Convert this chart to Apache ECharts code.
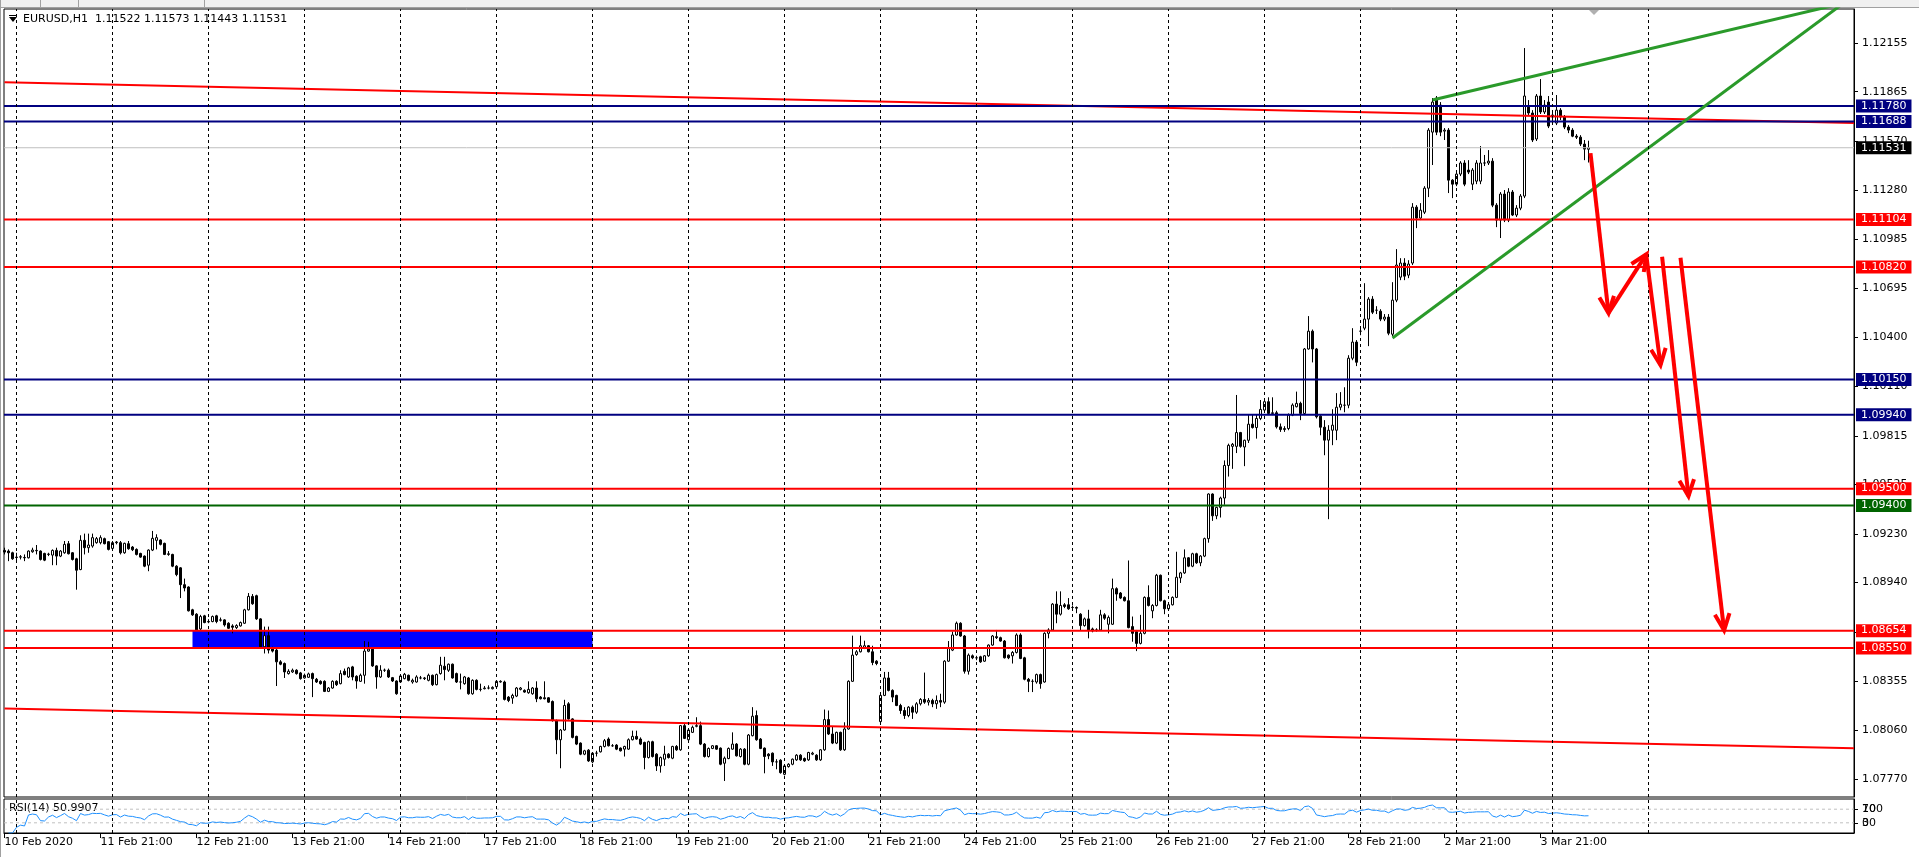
<!DOCTYPE html>
<html><head><meta charset="utf-8">
<script src="https://cdn.jsdelivr.net/npm/echarts@6/dist/echarts.min.js"></script>
<style>html,body{margin:0;padding:0;background:#fff;overflow:hidden}#c{width:1919px;height:857px}</style>
</head><body><div id="c"></div>
<script>
const headerText = 'EURUSD,H1  1.11522 1.11573 1.11443 1.11531';
const rsiTitle = 'RSI(14) 50.9907';
const timeLabelIndex = [0,24,48,72,96,120,144,168,192,216,240,264,288,312,336,360,384];
const timeLabels = ['10 Feb 2020','11 Feb 21:00','12 Feb 21:00','13 Feb 21:00','14 Feb 21:00','17 Feb 21:00','18 Feb 21:00','19 Feb 21:00','20 Feb 21:00','21 Feb 21:00','24 Feb 21:00','25 Feb 21:00','26 Feb 21:00','27 Feb 21:00','28 Feb 21:00','2 Mar 21:00','3 Mar 21:00'];
const dayStartIndex = [3,27,51,75,99,123,147,171,195,219,243,267,291,315,339,363,387,411];
const priceTicks = ['1.12155','1.11865','1.11570','1.11280','1.10985','1.10695','1.10400','1.10110','1.09815','1.09525','1.09230','1.08940','1.08645','1.08355','1.08060','1.07770'];
const rsiTicks = [70, 30];
const rsiTopBottom = [100, 0];
// hourly candles from 10 Feb 21:00: [open, high, low, close]
const candles = [
[1.09132,1.09148,1.09108,1.09122],[1.09128,1.09138,1.09068,1.09118],[1.09118,1.09124,1.09076,1.09082],
// 11 Feb
[1.09092,1.09118,1.09068,1.0909],[1.09092,1.09104,1.09078,1.09094],[1.0909,1.09108,1.09068,1.09088],[1.09088,1.09132,1.09084,1.09128],[1.09124,1.09148,1.09118,1.09134],[1.09132,1.09164,1.09108,1.0913],
[1.09128,1.09132,1.09072,1.09078],[1.09114,1.09118,1.09068,1.09074],[1.09108,1.09118,1.09098,1.0911],[1.09104,1.09138,1.09044,1.09132],[1.09132,1.09148,1.09044,1.09098],[1.09098,1.09134,1.09092,1.09128],
[1.09118,1.09188,1.09112,1.09168],[1.09172,1.09188,1.09108,1.09112],[1.09118,1.09122,1.09072,1.09078],[1.09082,1.09088,1.08898,1.09014],[1.09018,1.09222,1.09014,1.09192],[1.09192,1.09232,1.09108,1.09148],
[1.09148,1.09232,1.09118,1.09164],[1.09158,1.09232,1.09148,1.09208],[1.09178,1.09212,1.09172,1.09202],[1.09178,1.09222,1.09168,1.09208],[1.09202,1.09208,1.09168,1.09172],[1.09184,1.09188,1.09132,1.09138],
// 12 Feb
[1.09144,1.09188,1.09138,1.09178],[1.09178,1.09188,1.09168,1.09182],[1.09178,1.09188,1.09108,1.09118],[1.09118,1.09178,1.09112,1.09174],[1.09172,1.09188,1.09136,1.09142],[1.09152,1.09158,1.09128,1.09136],
[1.09138,1.09144,1.09102,1.09108],[1.09114,1.09118,1.09088,1.09092],[1.09098,1.09102,1.09032,1.09038],[1.09044,1.09138,1.09008,1.09134],[1.09134,1.09248,1.09128,1.09204],[1.09192,1.09228,1.09138,1.09208],
[1.09194,1.09198,1.09162,1.09168],[1.09174,1.09178,1.09104,1.09108],[1.09108,1.09128,1.091,1.09112],[1.09108,1.09112,1.09032,1.09038],[1.09038,1.09044,1.08978,1.08988],[1.09028,1.09032,1.08848,1.08928],
[1.08928,1.08964,1.08888,1.08908],[1.08914,1.08918,1.08768,1.08772],[1.08778,1.08784,1.08742,1.08748],[1.08752,1.08758,1.08652,1.08658],[1.08664,1.08748,1.08658,1.08738],[1.08742,1.08748,1.08698,1.08702],
// 13 Feb
[1.08708,1.08722,1.08698,1.08706],[1.08708,1.08744,1.08704,1.08738],[1.08742,1.08748,1.08698,1.08708],[1.08716,1.08732,1.08708,1.08718],[1.08718,1.08722,1.08678,1.08688],[1.08698,1.08704,1.08664,1.08668],
[1.08682,1.08692,1.08638,1.08674],[1.08672,1.08692,1.08664,1.08684],[1.08682,1.08708,1.08678,1.08702],[1.08698,1.08784,1.08694,1.08778],[1.08778,1.08878,1.08774,1.08858],[1.08858,1.08872,1.08808,1.08814],
[1.08862,1.08868,1.08718,1.08724],[1.08724,1.08728,1.08552,1.08558],[1.08558,1.08678,1.08518,1.08624],[1.08624,1.08678,1.08518,1.08538],[1.08552,1.08558,1.08524,1.08532],[1.08538,1.08548,1.08324,1.08468],
[1.08468,1.08478,1.08448,1.08454],[1.08458,1.08464,1.08372,1.08408],[1.08398,1.08424,1.08392,1.08412],[1.08408,1.08428,1.08402,1.08418],[1.08418,1.08424,1.08392,1.08398],[1.08402,1.08408,1.08362,1.08368],
// 14 Feb
[1.08372,1.08398,1.08368,1.08388],[1.08376,1.08404,1.08372,1.08396],[1.08398,1.08404,1.08258,1.08368],[1.08364,1.08372,1.08342,1.08348],[1.08352,1.08358,1.08332,1.08338],[1.08352,1.08358,1.08288,1.08292],
[1.08292,1.08318,1.08288,1.08312],[1.08312,1.08358,1.08308,1.08352],[1.08352,1.08358,1.08324,1.08332],[1.08338,1.08418,1.08334,1.08398],[1.08412,1.08428,1.08388,1.08392],[1.08378,1.08438,1.08372,1.08432],
[1.08438,1.08444,1.08358,1.08378],[1.08382,1.08388,1.08308,1.08354],[1.08352,1.08398,1.08348,1.08388],[1.08388,1.08592,1.08338,1.08532],[1.08532,1.08588,1.08528,1.08544],[1.08544,1.08548,1.08438,1.08444],
[1.08444,1.08448,1.08308,1.08378],[1.08378,1.08448,1.08372,1.08418],[1.08418,1.08428,1.08408,1.08418],[1.08418,1.08428,1.08372,1.08378],[1.08374,1.08378,1.08348,1.08354],[1.08354,1.08358,1.08272,1.08278],
// 17 Feb
[1.08348,1.08392,1.08344,1.08384],[1.08368,1.08402,1.08364,1.08394],[1.08388,1.08392,1.08352,1.08358],[1.08348,1.08368,1.08338,1.08358],[1.08348,1.08388,1.08344,1.08378],[1.08372,1.08384,1.08364,1.08372],
[1.08368,1.08378,1.0836,1.08372],[1.08358,1.08398,1.08352,1.08388],[1.08388,1.08392,1.08324,1.08332],[1.08332,1.08398,1.08328,1.08392],[1.08398,1.08498,1.08392,1.08448],[1.08442,1.08498,1.08358,1.08422],
[1.08418,1.08458,1.08408,1.08454],[1.08454,1.08458,1.08368,1.08372],[1.08398,1.08404,1.08342,1.08348],[1.08348,1.08398,1.08304,1.08348],[1.08338,1.08384,1.08332,1.08378],[1.08372,1.08378,1.08272,1.08278],
[1.08278,1.08364,1.08272,1.08358],[1.08358,1.08364,1.08298,1.08304],[1.08304,1.08338,1.08292,1.08304],[1.08308,1.08324,1.08304,1.08312],[1.08312,1.08328,1.08304,1.08312],[1.08308,1.08322,1.08304,1.08316],
// 18 Feb
[1.0832,1.08358,1.08316,1.08352],[1.08348,1.08358,1.08344,1.08352],[1.08348,1.08356,1.08238,1.08244],[1.08258,1.08264,1.08228,1.08238],[1.08252,1.08278,1.08218,1.08268],[1.08264,1.08318,1.08258,1.08312],
[1.08304,1.08318,1.08298,1.08312],[1.08298,1.08304,1.08284,1.08288],[1.08284,1.08352,1.08278,1.08304],[1.08278,1.08318,1.08272,1.08312],[1.08312,1.08352,1.08228,1.08248],[1.08258,1.08264,1.08244,1.08248],
[1.08254,1.08352,1.08244,1.08248],[1.08254,1.08258,1.08224,1.08228],[1.08232,1.08238,1.08112,1.08118],[1.08118,1.08124,1.07918,1.08004],[1.08004,1.08068,1.07834,1.08062],[1.08062,1.08242,1.08058,1.08208],
[1.08218,1.08228,1.08124,1.08128],[1.08128,1.08132,1.08012,1.08018],[1.08024,1.08028,1.07972,1.07978],[1.07984,1.07988,1.07912,1.07918],[1.07918,1.07944,1.07912,1.07938],[1.07942,1.07948,1.07872,1.07878],
// 19 Feb
[1.07872,1.07928,1.07864,1.07924],[1.07924,1.07938,1.07904,1.07924],[1.07932,1.07968,1.07928,1.07964],[1.07964,1.08008,1.07958,1.07998],[1.08008,1.08018,1.07964,1.07968],[1.07968,1.07978,1.07962,1.07968],
[1.07972,1.07978,1.07942,1.07948],[1.07954,1.07958,1.07934,1.07938],[1.07948,1.07968,1.07904,1.07964],[1.07948,1.08012,1.07944,1.08004],[1.08004,1.08058,1.08,1.08024],[1.08024,1.08058,1.08004,1.08008],
[1.08008,1.08018,1.07972,1.07978],[1.07988,1.07992,1.07828,1.07898],[1.07898,1.07998,1.07892,1.07992],[1.07992,1.07998,1.07898,1.07904],[1.07918,1.07924,1.07818,1.07848],[1.07848,1.07904,1.07808,1.07898],
[1.07888,1.07968,1.07848,1.07918],[1.07918,1.07924,1.07892,1.07898],[1.07894,1.07968,1.07888,1.07964],[1.07964,1.07972,1.07938,1.07944],[1.07944,1.08092,1.07938,1.08088],[1.08088,1.08098,1.08008,1.08012],
// 20 Feb
[1.08004,1.08068,1.07998,1.08062],[1.08048,1.08088,1.08044,1.08078],[1.08084,1.08138,1.08078,1.08088],[1.08088,1.08112,1.07972,1.07978],[1.07978,1.07984,1.07898,1.07904],[1.07904,1.07958,1.07898,1.07952],
[1.07952,1.07972,1.07948,1.07968],[1.07968,1.07972,1.07944,1.07948],[1.07954,1.07958,1.07852,1.07858],[1.07864,1.07904,1.07758,1.07894],[1.07892,1.07958,1.07888,1.07952],[1.07948,1.08048,1.07944,1.07978],
[1.07978,1.07984,1.07904,1.07908],[1.07904,1.07954,1.07898,1.07948],[1.07948,1.07954,1.07852,1.07858],[1.07858,1.08038,1.07852,1.08032],[1.08028,1.08198,1.08024,1.08144],[1.08148,1.08178,1.07998,1.08004],
[1.08008,1.08014,1.07948,1.07952],[1.07954,1.07958,1.07804,1.07904],[1.07918,1.07924,1.07888,1.07908],[1.07924,1.07928,1.07848,1.07872],[1.07872,1.07888,1.07828,1.07872],[1.07882,1.07888,1.07802,1.07808],
// 21 Feb
[1.07798,1.07852,1.07792,1.07848],[1.07844,1.07864,1.07838,1.07858],[1.07858,1.07892,1.07852,1.07888],[1.07884,1.07918,1.07878,1.07912],[1.07912,1.07918,1.07878,1.07884],[1.07892,1.07898,1.07872,1.07878],
[1.07884,1.07932,1.07878,1.07928],[1.07918,1.07932,1.07912,1.07924],[1.07912,1.07918,1.07878,1.07884],[1.07884,1.07948,1.07878,1.07944],[1.07944,1.08184,1.07938,1.08124],[1.08124,1.08178,1.08032,1.08038],
[1.08038,1.08084,1.07978,1.07984],[1.07984,1.08052,1.07978,1.08048],[1.08048,1.08052,1.07938,1.07944],[1.07944,1.08108,1.07938,1.08068],[1.08068,1.08358,1.08064,1.08352],[1.08352,1.08624,1.08348,1.08508],
[1.08512,1.08538,1.08504,1.08528],[1.08528,1.08624,1.08524,1.08564],[1.08548,1.08594,1.08544,1.08564],[1.08564,1.08568,1.08524,1.08528],[1.08528,1.08564,1.08448,1.08464],[1.08472,1.08478,1.08448,1.08458],
// 24 Feb
[1.08112,1.08278,1.08108,1.08268],[1.08268,1.08408,1.08264,1.08372],[1.08372,1.08408,1.08292,1.08298],[1.08298,1.08304,1.08228,1.08258],[1.08268,1.08272,1.08204,1.08208],[1.08208,1.08218,1.08158,1.08178],
[1.08178,1.08198,1.08128,1.08148],[1.08148,1.08204,1.08138,1.08198],[1.08198,1.08208,1.08128,1.08168],[1.08168,1.08228,1.08158,1.08218],[1.08218,1.08252,1.08208,1.08244],[1.08244,1.08404,1.08218,1.08228],
[1.08228,1.08252,1.08208,1.08238],[1.08238,1.08248,1.08198,1.08218],[1.08218,1.08268,1.08188,1.08238],[1.08238,1.08278,1.08198,1.08228],[1.08228,1.08478,1.08218,1.08472],[1.08472,1.08592,1.08468,1.08548],
[1.08538,1.08648,1.08532,1.08628],[1.08628,1.08708,1.08624,1.08698],[1.08698,1.08704,1.08618,1.08622],[1.08622,1.08628,1.08398,1.08412],[1.08412,1.08518,1.08392,1.08508],[1.08504,1.08512,1.08484,1.08492],
// 25 Feb
[1.08492,1.08504,1.08478,1.08492],[1.08498,1.08504,1.08462,1.08468],[1.08472,1.08508,1.08468,1.08504],[1.08504,1.08572,1.08498,1.08568],[1.08568,1.08628,1.08564,1.08622],[1.08618,1.08658,1.08604,1.08612],
[1.08612,1.08618,1.08588,1.08592],[1.08592,1.08598,1.08488,1.08492],[1.08508,1.08512,1.08484,1.08492],[1.08504,1.08532,1.08458,1.08524],[1.08524,1.08638,1.08518,1.08628],[1.08628,1.08638,1.08484,1.08488],
[1.08492,1.08498,1.08358,1.08364],[1.08364,1.08372,1.08288,1.08352],[1.08352,1.08364,1.08288,1.08352],[1.08348,1.08398,1.08338,1.08392],[1.08392,1.08398,1.08308,1.08338],[1.08348,1.08644,1.08344,1.08638],
[1.08638,1.08668,1.08608,1.08658],[1.08658,1.08818,1.08652,1.08812],[1.08812,1.08888,1.08698,1.08752],[1.08752,1.08888,1.08744,1.08804],[1.08808,1.08818,1.08788,1.08798],[1.08808,1.08848,1.08778,1.08784],
// 26 Feb
[1.08792,1.08804,1.08784,1.08792],[1.08792,1.08798,1.08758,1.08788],[1.08752,1.08758,1.08652,1.08684],[1.08684,1.08732,1.08678,1.08724],[1.08724,1.08778,1.08608,1.08658],[1.08664,1.08672,1.08644,1.08652],
[1.08658,1.08668,1.08648,1.08658],[1.08658,1.08778,1.08652,1.08748],[1.08748,1.08758,1.08718,1.08728],[1.08692,1.08744,1.08638,1.08732],[1.08692,1.08964,1.08688,1.08904],[1.08904,1.08912,1.08832,1.08872],
[1.08878,1.08884,1.08842,1.08848],[1.08852,1.08858,1.08828,1.08832],[1.08832,1.09072,1.08668,1.08672],[1.08678,1.08738,1.08588,1.08638],[1.08648,1.08658,1.08532,1.08578],[1.08578,1.08748,1.08572,1.08638],
[1.08638,1.08858,1.08632,1.08852],[1.08852,1.08924,1.08798,1.08804],[1.08772,1.08812,1.08728,1.08804],[1.08804,1.08992,1.08798,1.08984],[1.08984,1.08988,1.08828,1.08832],[1.08832,1.08838,1.08752,1.08784],
// 27 Feb
[1.08784,1.08818,1.08778,1.08808],[1.08808,1.08858,1.08804,1.08852],[1.08852,1.09124,1.08848,1.08972],[1.08968,1.09004,1.08938,1.08998],[1.08998,1.09138,1.08992,1.09088],[1.09088,1.09092,1.09032,1.09038],
[1.09038,1.09118,1.09032,1.09112],[1.09112,1.09118,1.09052,1.09058],[1.09058,1.09104,1.09038,1.09098],[1.09098,1.09208,1.09092,1.09202],[1.09202,1.09472,1.09178,1.09468],[1.09468,1.09472,1.09308,1.09338],
[1.09338,1.09392,1.09318,1.09388],[1.09388,1.09452,1.09328,1.09444],[1.09444,1.09668,1.09404,1.09638],[1.09638,1.09768,1.09572,1.09758],[1.09752,1.09772,1.09618,1.09764],[1.09752,1.10058,1.09712,1.09834],
[1.09834,1.09838,1.09744,1.09752],[1.09748,1.09792,1.09634,1.09788],[1.09788,1.09944,1.09772,1.09884],[1.09884,1.09944,1.09858,1.09864],[1.09864,1.09944,1.09798,1.09918],[1.09918,1.10028,1.09908,1.09972],
// 28 Feb
[1.09968,1.10028,1.09964,1.10018],[1.10018,1.10044,1.09938,1.09948],[1.09948,1.10044,1.09938,1.09952],[1.09952,1.09964,1.09858,1.09868],[1.09868,1.09888,1.09838,1.09852],[1.09852,1.09872,1.09838,1.09858],
[1.09858,1.09948,1.09848,1.09938],[1.09938,1.10008,1.09932,1.09998],[1.09988,1.10078,1.09984,1.10008],[1.10008,1.10018,1.09908,1.09948],[1.09948,1.10338,1.09938,1.10332],[1.10332,1.10528,1.10328,1.10438],
[1.10438,1.10448,1.10252,1.10332],[1.10332,1.10338,1.09918,1.09928],[1.09932,1.09938,1.09818,1.09866],[1.09866,1.09908,1.09699,1.09789],[1.09789,1.09878,1.09318,1.09848],[1.09848,1.09973,1.09759,1.09878],
[1.09848,1.10069,1.09789,1.09985],[1.09985,1.10075,1.09967,1.10003],[1.09997,1.10104,1.09955,1.09997],[1.09997,1.10295,1.09979,1.10277],[1.10277,1.10456,1.10265,1.10373],[1.10373,1.10385,1.1023,1.10253],
// 2 Mar
[1.10438,1.10456,1.10414,1.10438],[1.10456,1.10724,1.10444,1.1051],[1.1051,1.10641,1.10349,1.10629],[1.10629,1.10647,1.1054,1.10551],[1.10563,1.10587,1.1054,1.10563],[1.10557,1.10569,1.10498,1.1051],
[1.1051,1.1054,1.10498,1.10522],[1.10522,1.1054,1.10414,1.10426],[1.1042,1.1073,1.10408,1.10623],[1.10623,1.10927,1.10611,1.10832],[1.1076,1.10873,1.10742,1.10844],[1.10844,1.10873,1.10742,1.10766],
[1.10772,1.10861,1.10754,1.10838],[1.10844,1.11201,1.10832,1.11177],[1.11177,1.11189,1.11052,1.11112],[1.11112,1.11201,1.111,1.11159],[1.11147,1.11302,1.11136,1.1129],[1.1129,1.11648,1.11237,1.11636],
[1.11624,1.11827,1.11428,1.11803],[1.11827,1.11839,1.11606,1.11624],[1.11785,1.11803,1.116,1.11624],[1.1163,1.11648,1.11577,1.11636],[1.11636,1.11648,1.11261,1.11338],[1.11338,1.11344,1.11231,1.11314],
// 3 Mar
[1.11314,1.11386,1.11302,1.11374],[1.11374,1.11451,1.11362,1.1144],[1.1144,1.11457,1.11302,1.11314],[1.11398,1.11457,1.11374,1.11386],[1.11314,1.1141,1.11279,1.11398],[1.11332,1.11457,1.11314,1.1144],
[1.11332,1.11541,1.11314,1.1144],[1.1144,1.11488,1.11422,1.1144],[1.1144,1.11517,1.11428,1.11451],[1.11451,1.11469,1.11177,1.11189],[1.11189,1.11201,1.11058,1.111],[1.111,1.11267,1.10993,1.11255],
[1.11255,1.11279,1.11088,1.111],[1.111,1.1129,1.11088,1.11267],[1.11267,1.11279,1.11124,1.1113],[1.1113,1.11189,1.11118,1.11171],[1.11171,1.11255,1.11159,1.11243],[1.11243,1.12125,1.11231,1.11839],
[1.11773,1.11815,1.11726,1.11738],[1.11738,1.11755,1.11565,1.11577],[1.11583,1.11851,1.11571,1.11839],[1.11839,1.1194,1.11732,1.11744],[1.11744,1.11815,1.11732,1.11785],[1.11803,1.11839,1.11648,1.1166],
// 4 Mar
[1.11726,1.11744,1.11678,1.11714],[1.11678,1.11845,1.11666,1.11755],[1.11755,1.11767,1.11696,1.11714],[1.11714,1.11726,1.11642,1.11654],[1.11654,1.11666,1.11618,1.11636],[1.11636,1.11648,1.11594,1.116],
[1.116,1.11612,1.11583,1.11594],[1.11594,1.11606,1.11541,1.11553],[1.11553,1.11577,1.11457,1.11523],[1.11522,1.11573,1.11443,1.11531]
];
const navyLevels = [1.1178, 1.11688, 1.1015, 1.0994];
const redLevels = [1.11104, 1.1082, 1.095, 1.08654, 1.0855];
const greenLevels = [1.094];
const bidPrice = 1.11531;
const zoneBox = [47, 1.08654, 147, 1.0855];
const channelUpper = [[0, 1.11921], [462.375, 1.11679]];
const channelLower = [[0, 1.0819], [462.375, 1.07953]];
const wedgeUpper = [[357, 1.11815], [462, 1.12405]];
const wedgeLower = [[347, 1.10397], [461.25, 1.12419]];
const arrows = [
  [396.5, 1.11499, 401, 1.10546],
  [401, 1.10546, 410.5, 1.10897],
  [410.5, 1.10881, 414, 1.10236],
  [414.4, 1.10881, 421, 1.09455],
  [419, 1.10875, 429.9, 1.08656]
];

const FONT = '"DejaVu Sans", "Liberation Sans", sans-serif';
const closes = candles.map(c => c[3]);
function computeRSI(cl, n) {
  const out = [];
  let ag = 0, al = 0;
  for (let i = 1; i < cl.length; i++) {
    const d = cl[i] - cl[i - 1];
    const g = d > 0 ? d : 0, l = d < 0 ? -d : 0;
    if (i <= n) { ag = (ag * (i - 1) + g) / i; al = (al * (i - 1) + l) / i; }
    else { ag = (ag * (n - 1) + g) / n; al = (al * (n - 1) + l) / n; }
    out.push([i, al === 0 ? 100 : 100 - 100 / (1 + ag / al)]);
  }
  return out;
}
const rsiData = computeRSI(closes, 14);

const XMIN = -0.125, XMAX = 462.375;
const YMIN = 1.076628, YMAX = 1.123576;

function levelSeries(p, lineColor, boxColor, width) {
  return {
    type: 'line', xAxisIndex: 0, yAxisIndex: 0, z: 3, silent: true, symbol: 'none', clip: false,
    data: [[XMIN, p], [XMAX, p]],
    lineStyle: { color: lineColor, width: width, type: 'solid' },
    endLabel: {
      show: true, distance: 2,
      formatter: () => p.toFixed(5),
      backgroundColor: boxColor, color: '#fff', padding: [1, 5, 1, 5],
      fontFamily: FONT, fontSize: 11, lineHeight: 11, align: 'left', verticalAlign: 'middle'
    }
  };
}
const levelSeriesList = []
  .concat([levelSeries(bidPrice, '#c0c0c0', '#000000', 1)])
  .concat(navyLevels.map(p => levelSeries(p, '#000080', '#000080', 2)))
  .concat(redLevels.map(p => levelSeries(p, '#ff0000', '#ff0000', 2)))
  .concat(greenLevels.map(p => levelSeries(p, '#006400', '#006400', 2)));

const chart = echarts.init(document.getElementById('c'), null, { renderer: 'canvas' });
chart.setOption({
  animation: false,
  backgroundColor: '#ffffff',
  textStyle: { fontFamily: FONT },
  grid: [
    { left: 4, top: 9, width: 1850, height: 788, show: true, borderColor: '#000', borderWidth: 1, backgroundColor: '#fff', containLabel: false, outerBoundsMode: 'none' },
    { left: 4, top: 799, width: 1850, height: 34, show: true, borderColor: '#000', borderWidth: 1, containLabel: false, outerBoundsMode: 'none' },
    { left: 4, top: 799, width: 1850, height: 34, show: false, containLabel: false, outerBoundsMode: 'none' }
  ],
  xAxis: [
    { gridIndex: 0, type: 'value', min: XMIN, max: XMAX, show: false, splitLine: { show: false } },
    { gridIndex: 1, type: 'value', min: XMIN, max: XMAX, position: 'bottom',
      axisLine: { show: true, onZero: false, lineStyle: { color: '#000', width: 1 } },
      axisTick: { show: true, customValues: timeLabelIndex, length: 5, lineStyle: { color: '#000' } },
      axisLabel: { show: true, customValues: timeLabelIndex, formatter: v => timeLabels[timeLabelIndex.indexOf(Math.round(v))] || '',
        align: 'left', margin: 4, color: '#000', fontSize: 11, fontFamily: FONT, showMinLabel: true, showMaxLabel: true, hideOverlap: false },
      splitLine: { show: false } },
    { gridIndex: 2, type: 'value', min: XMIN, max: XMAX, show: false }
  ],
  yAxis: [
    { gridIndex: 0, type: 'value', position: 'right', min: YMIN, max: YMAX,
      axisLine: { show: true, onZero: false, lineStyle: { color: '#000', width: 1 } },
      axisTick: { show: true, customValues: priceTicks.map(Number), length: 4, lineStyle: { color: '#000' } },
      axisLabel: { show: true, customValues: priceTicks.map(Number), formatter: v => v.toFixed(5), margin: 8,
        color: '#000', fontSize: 11, fontFamily: FONT, hideOverlap: false },
      splitLine: { show: false } },
    { gridIndex: 1, type: 'value', position: 'right', min: 0, max: 100,
      axisLine: { show: true, onZero: false, lineStyle: { color: '#000', width: 1 } },
      axisTick: { show: true, customValues: rsiTicks, length: 4, lineStyle: { color: '#000' } },
      axisLabel: { show: true, customValues: rsiTicks, margin: 8, color: '#000', fontSize: 11, fontFamily: FONT, hideOverlap: false },
      splitLine: { show: false } },
    { gridIndex: 2, type: 'value', position: 'right', min: -75, max: 175,
      axisLine: { show: false }, axisTick: { show: false },
      axisLabel: { show: true, customValues: rsiTopBottom, margin: 8, color: '#000', fontSize: 11, fontFamily: FONT, hideOverlap: false },
      splitLine: { show: false } }
  ],
  series: [
    { name: 'bg', type: 'line', xAxisIndex: 0, yAxisIndex: 0, data: [], z: 1, silent: true,
      markLine: { silent: true, symbol: ['none', 'none'], animation: false, label: { show: false },
        lineStyle: { color: '#000', width: 1, type: [3, 3] },
        data: dayStartIndex.map(v => ({ xAxis: v })) },
      markArea: { silent: true, itemStyle: { color: '#0000ff', opacity: 1 },
        data: [[{ coord: [zoneBox[0], zoneBox[1]] }, { coord: [zoneBox[2], zoneBox[3]] }]] } },
    { name: 'EURUSD', type: 'candlestick', xAxisIndex: 0, yAxisIndex: 0, z: 2,
      data: candles.map((c, i) => [i, c[0], c[3], c[2], c[1]]),
      encode: { x: 0, y: [1, 2, 3, 4] },
      barWidth: 3,
      itemStyle: { color: '#ffffff', color0: '#000000', borderColor: '#000000', borderColor0: '#000000', borderWidth: 1 } },
    { name: 'chU', type: 'line', xAxisIndex: 0, yAxisIndex: 0, z: 3, data: channelUpper, symbol: 'none', silent: true,
      lineStyle: { color: '#ff0000', width: 2 } },
    { name: 'chL', type: 'line', xAxisIndex: 0, yAxisIndex: 0, z: 3, data: channelLower, symbol: 'none', silent: true,
      lineStyle: { color: '#ff0000', width: 2 } }
  ].concat(levelSeriesList).concat([
    { name: 'wU', type: 'line', xAxisIndex: 0, yAxisIndex: 0, z: 4, data: wedgeUpper, symbol: 'none', silent: true, clip: true,
      lineStyle: { color: '#2a9a2a', width: 3 } },
    { name: 'wL', type: 'line', xAxisIndex: 0, yAxisIndex: 0, z: 4, data: wedgeLower, symbol: 'none', silent: true, clip: true,
      lineStyle: { color: '#2a9a2a', width: 3 } },
    { name: 'arrows', type: 'custom', xAxisIndex: 0, yAxisIndex: 0, z: 5, silent: true,
      data: arrows, encode: { x: [0, 2], y: [1, 3] },
      renderItem: (params, api) => {
        const a = api.coord([api.value(0), api.value(1)]);
        const b = api.coord([api.value(2), api.value(3)]);
        const ang = Math.atan2(b[1] - a[1], b[0] - a[0]);
        const L = 18, w = 0.42;
        const w1 = [b[0] - L * Math.cos(ang - w), b[1] - L * Math.sin(ang - w)];
        const w2 = [b[0] - L * Math.cos(ang + w), b[1] - L * Math.sin(ang + w)];
        const st = { stroke: '#ff0000', lineWidth: 4, fill: null, lineJoin: 'miter' };
        return { type: 'group', children: [
          { type: 'line', shape: { x1: a[0], y1: a[1], x2: b[0], y2: b[1] }, style: st },
          { type: 'polyline', shape: { points: [w1, b, w2] }, style: st }
        ] };
      } },
    { name: 'rsiBg', type: 'line', xAxisIndex: 1, yAxisIndex: 1, data: [], z: 1, silent: true,
      markLine: { silent: true, symbol: ['none', 'none'], animation: false, label: { show: false },
        lineStyle: { color: '#000', width: 1, type: [3, 3] },
        data: dayStartIndex.map(v => ({ xAxis: v })) } },
    { name: 'rsi70', type: 'line', xAxisIndex: 1, yAxisIndex: 1, z: 2, silent: true, symbol: 'none',
      data: [[XMIN, rsiTicks[0]], [XMAX, rsiTicks[0]]], lineStyle: { color: '#c0c0c0', width: 1, type: [3, 3] } },
    { name: 'rsi30', type: 'line', xAxisIndex: 1, yAxisIndex: 1, z: 2, silent: true, symbol: 'none',
      data: [[XMIN, rsiTicks[1]], [XMAX, rsiTicks[1]]], lineStyle: { color: '#c0c0c0', width: 1, type: [3, 3] } },
    { name: 'RSI', type: 'line', xAxisIndex: 1, yAxisIndex: 1, z: 3, data: rsiData, symbol: 'none', silent: true,
      lineStyle: { color: '#1e90ff', width: 1 } }
  ]),
  graphic: [
    { type: 'rect', left: 0, top: 0, shape: { width: 1919, height: 7 }, style: { fill: '#f0f0f0' }, silent: true },
    { type: 'rect', left: 0, top: 7, shape: { width: 1919, height: 1 }, style: { fill: '#a0a0a0' }, silent: true },
    { type: 'rect', left: 0, top: 0, shape: { width: 1, height: 857 }, style: { fill: '#a0a0a0' }, silent: true },
    { type: 'rect', left: 40, top: 0, shape: { width: 1, height: 7 }, style: { fill: '#a0a0a0' }, silent: true },
    { type: 'rect', left: 78, top: 0, shape: { width: 1, height: 7 }, style: { fill: '#a0a0a0' }, silent: true },
    { type: 'rect', left: 204, top: 0, shape: { width: 1, height: 7 }, style: { fill: '#a0a0a0' }, silent: true },
    { type: 'polygon', shape: { points: [[9, 17], [17, 17], [13, 22]] }, style: { fill: '#000' }, silent: true },
    { type: 'rect', left: 9, top: 15, shape: { width: 8, height: 1 }, style: { fill: '#000' }, silent: true },
    { type: 'text', left: 23, top: 14, style: { text: headerText, font: '11px ' + FONT, fill: '#000' }, silent: true },
    { type: 'polygon', shape: { points: [[1589, 10], [1599, 10], [1594, 15]] }, style: { fill: '#b0b0b0' }, silent: true },
    { type: 'text', left: 9, top: 803, style: { text: rsiTitle, font: '11px ' + FONT, fill: '#000' }, silent: true }
  ]
});
</script>
</body></html>
